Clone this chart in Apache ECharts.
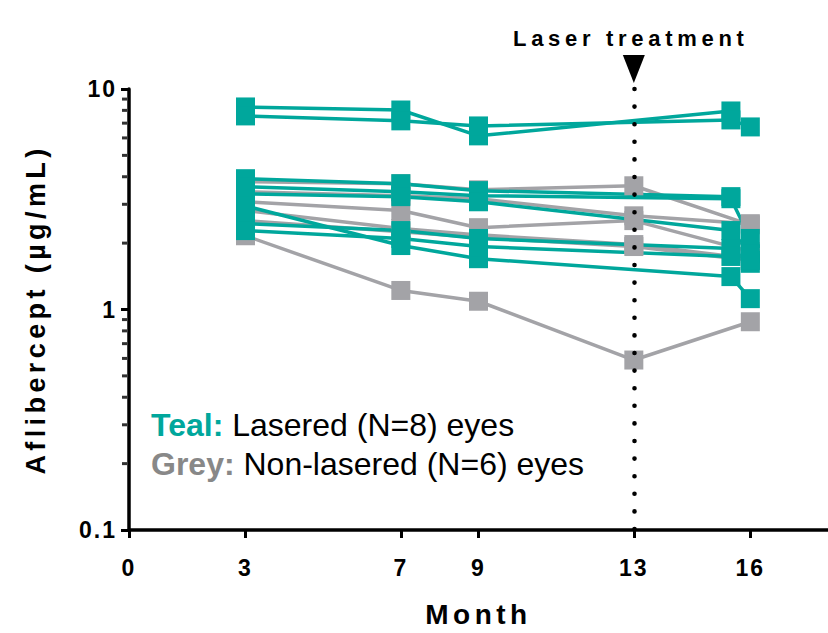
<!DOCTYPE html>
<html>
<head>
<meta charset="utf-8">
<script src="https://cdn.jsdelivr.net/npm/echarts@6/dist/echarts.min.js"></script>
<style>
  html, body { margin: 0; padding: 0; background: #fff; }
  #chart { width: 828px; height: 633px; }
  /* wide tracking on the bold axis texts (grouped by font size) */
  #chart svg text[style*="23px"] { letter-spacing: 2px; }
  #chart svg text[style*="27px"] { letter-spacing: 4.4px; }
  #chart svg text[style*="28px"] { letter-spacing: 4.5px; }
  #chart svg text[style*="22px"] { letter-spacing: 4.7px; }
</style>
</head>
<body>
<div id="chart"></div>
<script>
// Aflibercept concentration per eye, months after start of therapy
const tealMonths = [3, 7, 9, 15.5, 16];
const greyMonths = [3, 7, 9, 13, 16];

// lasered eyes
const teal1 = [8.29, 8.03, 6.13, 7.95, null];
const teal2 = [7.55, 7.17, 6.80, 7.24, 6.73];
const teal3 = [3.92, 3.72, 3.46, 3.25, null];
const teal4 = [3.60, 3.42, 3.28, 3.18, 2.10];
const teal5 = [3.35, 3.25, 3.08, 2.28, 1.79];
const teal6 = [2.95, 1.95, 1.70, 1.41, 1.12];
const teal7 = [2.45, 2.28, 2.10, 1.89, 1.62];
const teal8 = [2.28, 2.10, 1.93, 1.74, 1.67];

// non-lasered eyes
const grey1 = [3.80, 3.72, 3.49, 3.64, 2.42];
const grey2 = [3.42, 3.28, 3.18, 2.66, 2.45];
const grey3 = [3.08, 2.81, 2.35, 2.53, 1.83];
const grey4 = [2.53, 2.25, 2.12, 1.93, 1.67];
const grey5 = [2.81, 2.33, 2.18, 1.97, 1.70];
const grey6 = [2.16, 1.22, 1.09, 0.59, 0.88];

const monthTicks = [0, 3, 7, 9, 13, 16];
const yTickLabels = [0.1, 1, 10];
const yMinorTicks = [0.2, 0.3, 0.4, 0.5, 0.6, 0.7, 0.8, 0.9, 2, 3, 4, 5, 6, 7, 8, 9];
const laserMonth = 13;

const TEAL = '#00A79C';
const GREY = '#A3A3A7';
const FONT = '"Liberation Sans", Arial, Helvetica, sans-serif';

function pairs(months, values) {
  return months.map((m, i) => [m, values[i]]);
}

function eyeSeries(months, values, color) {
  return {
    type: 'line',
    data: pairs(months, values),
    symbol: 'rect',
    symbolSize: 19,
    showAllSymbol: true,
    connectNulls: false,
    lineStyle: { color: color, width: 3.5 },
    itemStyle: { color: color },
    emphasis: { disabled: true },
    silent: true,
    z: 3
  };
}

const greySets = [grey1, grey2, grey3, grey4, grey5, grey6];
const tealSets = [teal1, teal2, teal3, teal4, teal5, teal6, teal7, teal8];

const series = [];

// laser treatment marker: dotted line at month 13 with arrow above
series.push({
  type: 'line',
  data: [],
  silent: true,
  z: 2,
  markLine: {
    silent: true,
    symbol: ['none', 'none'],
    label: { show: false },
    lineStyle: { color: '#000', width: 4.6, type: [0, 17.6], cap: 'round' },
    data: [[{ coord: [laserMonth, 10] }, { coord: [laserMonth, 0.1] }]]
  },
  markPoint: {
    silent: true,
    data: [{
      coord: [laserMonth, 10],
      symbol: 'path://M0,0L22,0L11,28Z',
      symbolSize: [22, 28],
      symbolOffset: [0, -20],
      itemStyle: { color: '#000' },
      label: { show: false }
    }]
  }
});

// minor ticks on the log axis
series.push({
  type: 'scatter',
  data: yMinorTicks.map(v => [0, v]),
  symbol: 'rect',
  symbolSize: [5, 3],
  symbolOffset: [-4.5, 0],
  itemStyle: { color: '#000' },
  clip: false,
  silent: true,
  z: 5
});

greySets.forEach(v => series.push(eyeSeries(greyMonths, v, GREY)));
tealSets.forEach(v => series.push(eyeSeries(tealMonths, v, TEAL)));

const boldLabel = (size) => ({
  fontFamily: FONT, fontWeight: 'bold', fontSize: size, color: '#000'
});

const option = {
  animation: false,
  backgroundColor: '#fff',
  title: [
    {
      text: 'Laser treatment',
      left: 513, top: 27, padding: 0,
      textStyle: boldLabel(22)
    },
    {
      text: '{k|Teal:}{t| Lasered (N=8) eyes}',
      left: 151, top: 409, padding: 0,
      textStyle: {
        fontWeight: 'normal',
        rich: {
          k: { fontFamily: FONT, fontWeight: 'bold', fontSize: 32, color: TEAL },
          t: { fontFamily: FONT, fontWeight: 'normal', fontSize: 32, color: '#000' }
        }
      }
    },
    {
      text: '{k|Grey:}{t| Non-lasered (N=6) eyes}',
      left: 151, top: 448, padding: 0,
      textStyle: {
        fontWeight: 'normal',
        rich: {
          k: { fontFamily: FONT, fontWeight: 'bold', fontSize: 32, color: '#888888' },
          t: { fontFamily: FONT, fontWeight: 'normal', fontSize: 32, color: '#000' }
        }
      }
    }
  ],
  grid: { left: 129, top: 89, width: 699, height: 443, containLabel: false },
  xAxis: {
    type: 'value',
    min: 0, max: 18, interval: 1,
    name: 'Month',
    nameLocation: 'middle',
    nameGap: 70,
    nameTextStyle: boldLabel(28),
    axisLine: { show: true, onZero: false, lineStyle: { color: '#000', width: 3.5 } },
    axisTick: { show: true, customValues: monthTicks, length: 8, lineStyle: { color: '#000', width: 3 } },
    axisLabel: Object.assign({ customValues: monthTicks, margin: 26 }, boldLabel(23)),
    splitLine: { show: false }
  },
  yAxis: {
    type: 'log',
    logBase: 10,
    min: 0.1, max: 10,
    name: 'Aflibercept (µg/mL)',
    nameLocation: 'middle',
    nameRotate: 90,
    nameGap: 80,
    nameTextStyle: boldLabel(27),
    axisLine: { show: true, onZero: false, lineStyle: { color: '#000', width: 3.5 } },
    axisTick: { show: true, customValues: yTickLabels, length: 8, lineStyle: { color: '#000', width: 3 } },
    axisLabel: Object.assign({ customValues: yTickLabels, margin: 12, formatter: v => String(v) }, boldLabel(23)),
    splitLine: { show: false }
  },
  series: series
};

const chart = echarts.init(document.getElementById('chart'), null, { renderer: 'svg', width: 828, height: 633 });
chart.setOption(option);
</script>
</body>
</html>
